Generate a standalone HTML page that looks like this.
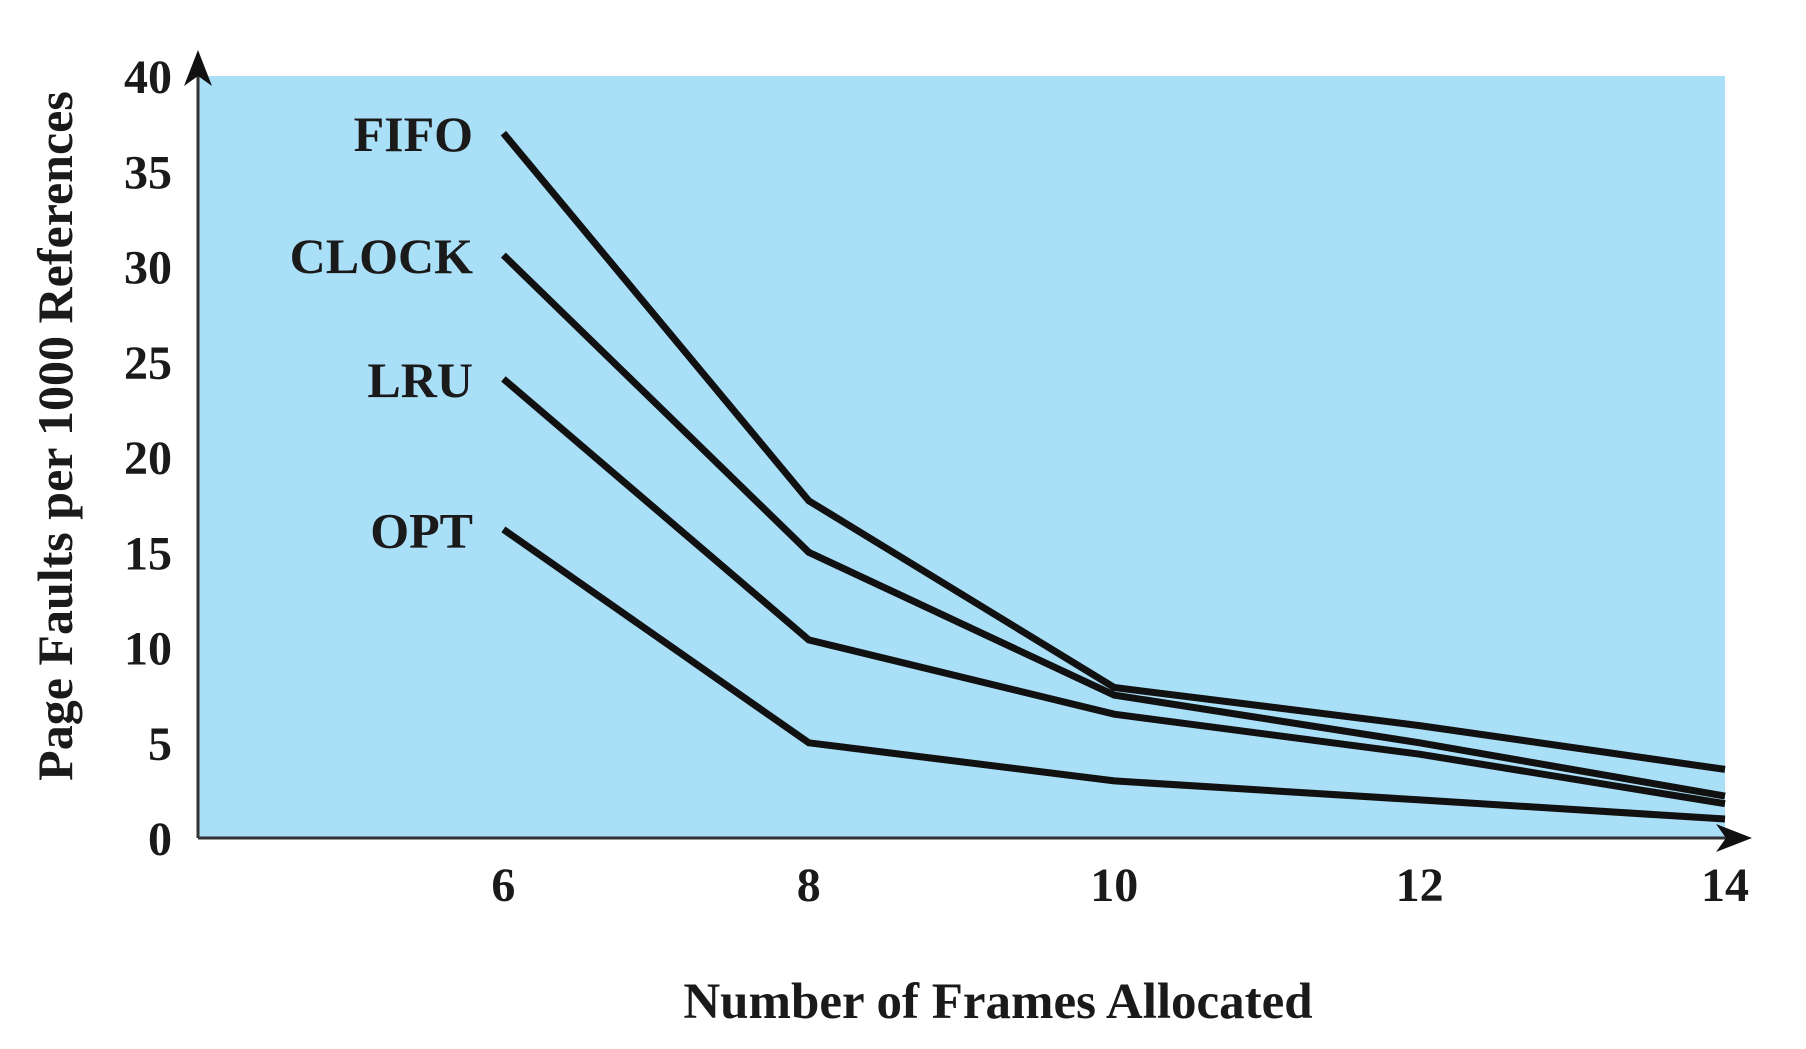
<!DOCTYPE html>
<html><head><meta charset="utf-8"><style>
html,body{margin:0;padding:0;background:#fff;}
svg text{font-family:"Liberation Serif",serif;font-weight:bold;fill:#1a1a1a;}
</style></head><body>
<svg id="chart" width="1806" height="1044" viewBox="0 0 1806 1044" xmlns="http://www.w3.org/2000/svg">
<rect x="198" y="76" width="1527" height="762" fill="#aadff8"/>
<g id="lines"></g>
<g id="axes"></g>
</svg>
<script>
const xTicks = [6, 8, 10, 12, 14];
const yTicks = [0, 5, 10, 15, 20, 25, 30, 35, 40];
const seriesNames = ["FIFO", "CLOCK", "LRU", "OPT"];
const fifo = [37.0, 17.7, 7.9, 5.9, 3.6];
const clock = [30.6, 15.0, 7.5, 5.0, 2.2];
const lru = [24.1, 10.4, 6.5, 4.4, 1.8];
const opt = [16.2, 5.0, 3.0, 2.0, 1.0];

const NS = "http://www.w3.org/2000/svg";
const L = 198, R = 1725, T = 76, B = 838;
const xScale = v => L + (v - 4) / (14 - 4) * (R - L);
const yScale = v => B - v / 40 * (B - T);
const linesG = document.getElementById('lines');
const axesG = document.getElementById('axes');
function mk(tag, attrs, parent) {
  const e = document.createElementNS(NS, tag);
  for (const k in attrs) e.setAttribute(k, attrs[k]);
  parent.appendChild(e);
  return e;
}
const all = [fifo, clock, lru, opt];
all.forEach((vals, i) => {
  const d = vals.map((v, j) => (j ? 'L' : 'M') + xScale(xTicks[j]).toFixed(1) + ',' + yScale(v).toFixed(1)).join(' ');
  const p = mk('path', {d: d, fill: 'none', stroke: '#111', 'stroke-width': 7}, linesG);
  
  
  const t = mk('text', {x: 473, y: yScale(vals[0]) + 18, 'text-anchor': 'end', 'font-size': 50}, linesG);
  t.textContent = seriesNames[i];
  
  
});
const ya = mk('line', {x1: L, y1: B, x2: L, y2: 62, stroke: '#333', 'stroke-width': 3}, axesG);


const yArrow = mk('path', {d: 'M' + L + ',50 L' + (L - 14) + ',86 L' + L + ',76 L' + (L + 14) + ',86 Z', fill: '#111'}, axesG);


const xa = mk('line', {x1: L, y1: B, x2: 1740, y2: B, stroke: '#333', 'stroke-width': 3}, axesG);


const xArrow = mk('path', {d: 'M1752,' + B + ' L1716,' + (B - 14) + ' L1726,' + B + ' L1716,' + (B + 14) + ' Z', fill: '#111'}, axesG);


yTicks.forEach(v => {
  const t = mk('text', {x: 172, y: yScale(v) + 17, 'text-anchor': 'end', 'font-size': 48}, axesG);
  t.textContent = v;
  
  
});
xTicks.forEach(v => {
  const t = mk('text', {x: xScale(v), y: 901, 'text-anchor': 'middle', 'font-size': 48}, axesG);
  t.textContent = v;
  
  
});
const xt = mk('text', {x: 998, y: 1018, 'text-anchor': 'middle', 'font-size': 51}, axesG);
xt.textContent = 'Number of Frames Allocated';


const yt = mk('text', {x: 0, y: 0, 'text-anchor': 'middle', 'font-size': 50, transform: 'translate(72,436) rotate(-90)'}, axesG);
yt.textContent = 'Page Faults per 1000 References';


</script>
</body></html>
